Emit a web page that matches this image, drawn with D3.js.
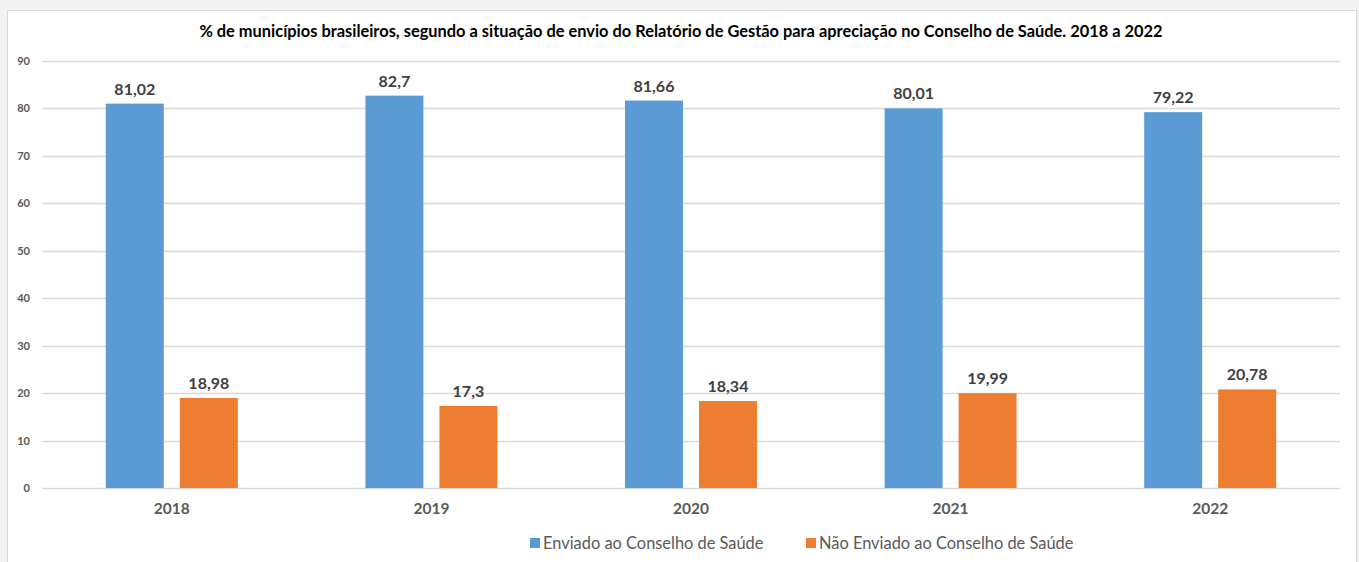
<!DOCTYPE html>
<html>
<head>
<meta charset="utf-8">
<script src="https://cdn.jsdelivr.net/npm/d3@7"></script>
<style>
  body { margin: 0; background: #f2f2f2; }
  svg { display: block; }
</style>
</head>
<body>
<svg id="grafico" width="1359" height="562"></svg>
<script>
// dados
const anos = ["2018", "2019", "2020", "2021", "2022"];
const series = ["Enviado ao Conselho de Saúde", "Não Enviado ao Conselho de Saúde"];
const enviado = [81.02, 82.7, 81.66, 80.01, 79.22];
const naoEnviado = [18.98, 17.3, 18.34, 19.99, 20.78];
const yTicks = [0, 10, 20, 30, 40, 50, 60, 70, 80, 90];
const cores = ["#5b9bd5", "#ed7d31"];
const titulo = "% de municípios brasileiros, segundo a situação de envio do Relatório de Gestão para apreciação no Conselho de Saúde. 2018 a 2022";

const fonte = "Lato, 'Open Sans', sans-serif";
const svg = d3.select("#grafico");

// moldura do grafico
svg.append("rect")
  .attr("x", 7.5).attr("y", 10.5)
  .attr("width", 1349).attr("height", 560)
  .attr("fill", "#fff")
  .attr("stroke", "#d9d9d9");

const margin = {top: 61, left: 42, right: 19, bottom: 74};
const w = 1359 - margin.left - margin.right;
const h = 562 - margin.top - margin.bottom;

const g = svg.append("g").attr("transform", "translate(" + margin.left + "," + margin.top + ")");

const x = d3.scaleBand().domain(anos).range([0, w]);
const y = d3.scaleLinear().domain([0, 90]).range([h, 0]);

// linhas de grade
g.selectAll(".grid")
  .data(yTicks)
  .enter()
  .append("line")
  .attr("x1", 0).attr("x2", w)
  .attr("y1", d => Math.round(y(d)) + 0.5)
  .attr("y2", d => Math.round(y(d)) + 0.5)
  .attr("stroke", "#d9d9d9")
  .attr("stroke-width", 1.5);

// eixo Y
const yAxis = d3.axisLeft(y).tickValues(yTicks).tickSize(0).tickPadding(12);
g.append("g")
  .call(yAxis)
  .call(s => s.select(".domain").remove())
  .selectAll("text")
  .style("font-family", fonte)
  .style("font-size", "11px")
  .style("font-weight", "bold")
  .attr("fill", "#595959");

// eixo X
const xAxis = d3.axisBottom(x).tickSize(0).tickPadding(15);
g.append("g")
  .attr("transform", "translate(0," + h + ")")
  .call(xAxis)
  .call(s => s.select(".domain").remove())
  .selectAll("text")
  .style("font-family", fonte)
  .style("font-size", "15.5px")
  .style("font-weight", "bold")
  .attr("fill", "#595959");

// barras
const barW = 58;
const offset = 37;
const valores = [enviado, naoEnviado];
valores.forEach(function(vals, s) {
  const dx = s === 0 ? -offset : offset;
  g.selectAll(".bar" + s)
    .data(vals)
    .enter()
    .append("rect")
    .attr("x", (d, i) => x(anos[i]) + x.bandwidth() / 2 + dx - barW / 2)
    .attr("y", d => y(d))
    .attr("width", barW)
    .attr("height", d => h - y(d))
    .attr("fill", cores[s]);

  g.selectAll(".lbl" + s)
    .data(vals)
    .enter()
    .append("text")
    .attr("x", (d, i) => x(anos[i]) + x.bandwidth() / 2 + dx)
    .attr("y", d => y(d) - 9)
    .attr("text-anchor", "middle")
    .style("font-family", fonte)
    .style("font-size", "16px")
    .style("font-weight", "bold")
    .attr("fill", "#404040")
    .text(d => d.toLocaleString("pt-BR"));
});

// titulo
svg.append("text")
  .attr("x", 681).attr("y", 37)
  .attr("text-anchor", "middle")
  .style("font-family", fonte)
  .style("font-size", "16.4px")
  .style("font-weight", "bold")
  .attr("fill", "#000")
  .text(titulo);

// legenda
const legX = [530, 806];
series.forEach(function(nome, s) {
  const lg = svg.append("g").attr("transform", "translate(" + legX[s] + ",538)");
  lg.append("rect").attr("width", 10).attr("height", 10).attr("fill", cores[s]);
  lg.append("text")
    .attr("x", 13).attr("y", 10.5)
    .style("font-family", fonte)
    .style("font-size", "16.4px")
    .attr("fill", "#595959")
    .text(nome);
});
</script>
</body>
</html>
